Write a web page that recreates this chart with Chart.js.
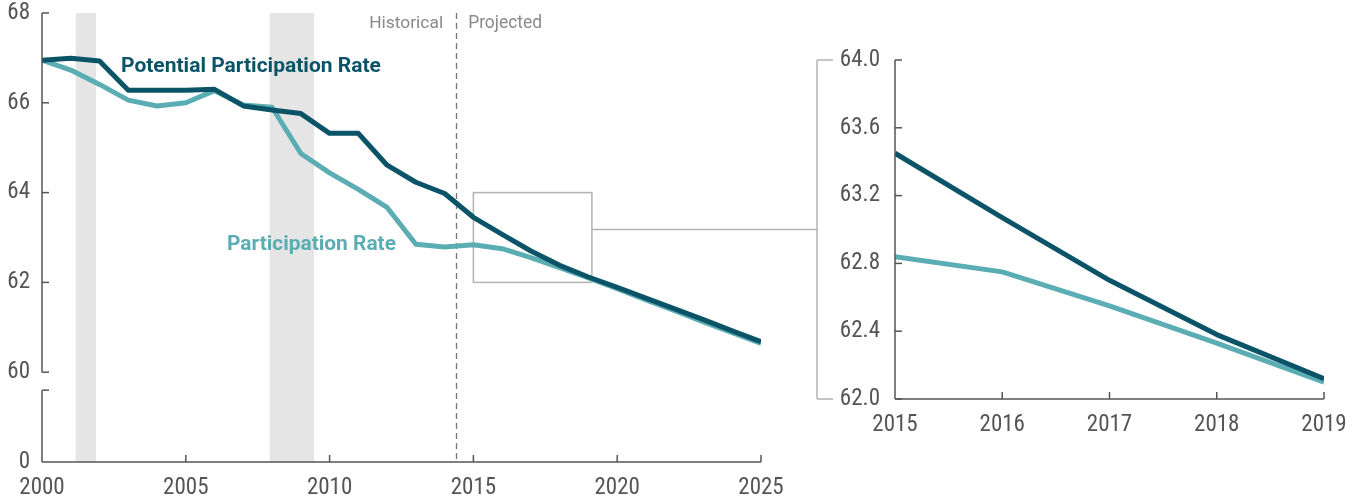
<!DOCTYPE html>
<html>
<head>
<meta charset="utf-8">
<script src="https://cdn.jsdelivr.net/npm/chart.js@4/dist/chart.umd.min.js"></script>
<style>
  html, body { margin: 0; padding: 0; background: #ffffff; }
  #wrap { position: relative; width: 1361px; height: 501px; }
  canvas { position: absolute; left: 0; top: 0; }
</style>
</head>
<body>
<div id="wrap">
  <canvas id="main" width="1361" height="501"></canvas>
  <canvas id="zoom" width="1361" height="501"></canvas>
</div>
<script>
// ---- data ----
const years = [2000, 2001, 2002, 2003, 2004, 2005, 2006, 2007, 2008, 2009, 2010, 2011, 2012,
               2013, 2014, 2015, 2016, 2017, 2018, 2019, 2020, 2021, 2022, 2023, 2024, 2025];
const potentialRate = [66.95, 66.99, 66.93, 66.28, 66.28, 66.28, 66.30, 65.93, 65.84, 65.76, 65.32, 65.32, 64.61,
                       64.23, 63.98, 63.45, 63.07, 62.70, 62.38, 62.12, 61.89, 61.65, 61.41, 61.17, 60.92, 60.68];
const participationRate = [66.95, 66.73, 66.41, 66.06, 65.93, 66.00, 66.27, 65.95, 65.90, 64.87, 64.44, 64.07, 63.67,
                           62.85, 62.79, 62.84, 62.75, 62.55, 62.33, 62.10, 61.86, 61.61, 61.37, 61.12, 60.88, 60.64];
const recessions = [[2001.17, 2001.88], [2007.92, 2009.46]];
const projectionStart = 2014.4;
const zoomYears = [2015, 2016, 2017, 2018, 2019];
const zoomBox = { x0: 2015, x1: 2019.12, y0: 62, y1: 64 };
const seriesNames = ['Potential Participation Rate', 'Participation Rate'];
const periodLabels = ['Historical', 'Projected'];

// ---- styles ----
const FONT = "Roboto, 'Liberation Sans', sans-serif";
const DARK = '#0b5468';
const LIGHT = '#5badb4';
const AXIS = '#555555';
const TEXT = '#555555';
const TICK_FONT = { size: 23, weight: 'condensed' };
Chart.defaults.font.family = FONT;
Chart.defaults.color = TEXT;

function pts(xs, ys) { return xs.map((x, i) => ({ x: x, y: ys[i] })); }
const zoomPotential = zoomYears.map(y => ({ x: y, y: potentialRate[years.indexOf(y)] }));
const zoomParticipation = zoomYears.map(y => ({ x: y, y: participationRate[years.indexOf(y)] }));

function line(ctx, x0, y0, x1, y1) { ctx.beginPath(); ctx.moveTo(x0, y0); ctx.lineTo(x1, y1); ctx.stroke(); }
function fitText(ctx, text, weight, targetW, x, y) {
  ctx.font = weight + " 20px " + FONT;
  const w = ctx.measureText(text).width;
  const size = 20 * targetW / w;
  ctx.font = weight + " " + size.toFixed(2) + "px " + FONT;
  ctx.fillText(text, x, y);
}
function fixY(width) { return s => { s.width = width; s.paddingTop = 0; s.paddingBottom = 0; }; }

const mainDecor = {
  id: 'mainDecor',
  beforeDatasetsDraw(chart) {
    const { ctx, chartArea: a, scales: { x, y } } = chart;
    ctx.save();
    ctx.fillStyle = '#e5e5e5';
    recessions.forEach(([s, e]) => {
      const px0 = x.getPixelForValue(s), px1 = x.getPixelForValue(e);
      ctx.fillRect(px0, a.top, px1 - px0, a.bottom - a.top);
    });
    ctx.strokeStyle = '#777777';
    ctx.lineWidth = 1.3;
    ctx.setLineDash([6, 4]);
    const dx = Math.round(x.getPixelForValue(projectionStart)) + 0.5;
    line(ctx, dx, a.top, dx, a.bottom);
    ctx.setLineDash([]);
    ctx.strokeStyle = '#b3b3b3';
    ctx.lineWidth = 1.5;
    const bx0 = x.getPixelForValue(zoomBox.x0), bx1 = x.getPixelForValue(zoomBox.x1);
    const by0 = y.getPixelForValue(zoomBox.y1), by1 = y.getPixelForValue(zoomBox.y0);
    ctx.strokeRect(bx0, by0, bx1 - bx0, by1 - by0);
    ctx.restore();
  },
  afterDraw(chart) {
    const { ctx, chartArea: a, scales: { x, y } } = chart;
    ctx.save();
    ctx.strokeStyle = AXIS;
    ctx.lineWidth = 1.5;
    const ax = a.left;
    line(ctx, ax, y.getPixelForValue(68), ax, y.getPixelForValue(60));
    [60, 62, 64, 66, 68].forEach(v => { const py = y.getPixelForValue(v); line(ctx, ax, py, ax + 7, py); });
    const pb = y.getPixelForValue(59.6);
    line(ctx, ax, pb, ax, a.bottom);
    line(ctx, ax, pb, ax + 7, pb);
    line(ctx, a.left, a.bottom, a.right, a.bottom);
    [2005, 2010, 2015, 2020, 2025].forEach(v => { const px = x.getPixelForValue(v); line(ctx, px, a.bottom, px, a.bottom - 7); });
    ctx.fillStyle = '#8a8a8a';
    ctx.textBaseline = 'alphabetic';
    const dx = x.getPixelForValue(projectionStart);
    ctx.textAlign = 'right';
    fitText(ctx, periodLabels[0], 'normal', 74, dx - 13, 28);
    ctx.textAlign = 'left';
    fitText(ctx, periodLabels[1], 'normal', 74, dx + 12, 28);
    ctx.fillStyle = DARK;
    fitText(ctx, seriesNames[0], 'bold', 260, 121, 72);
    ctx.fillStyle = LIGHT;
    fitText(ctx, seriesNames[1], 'bold', 169, 227, 250);
    ctx.restore();
  }
};

const mainChart = new Chart(document.getElementById('main'), {
  type: 'line',
  data: {
    datasets: [
      { label: seriesNames[0], data: pts(years, potentialRate), borderColor: DARK, borderWidth: 5, order: 0 },
      { label: seriesNames[1], data: pts(years, participationRate), borderColor: LIGHT, borderWidth: 5, order: 1 }
    ]
  },
  options: {
    responsive: false,
    animation: false,
    layout: { padding: { left: 0, top: 13, right: 600, bottom: 0 } },
    elements: { point: { radius: 0 }, line: { tension: 0, borderJoinStyle: 'round', borderCapStyle: 'butt' } },
    plugins: { legend: { display: false }, tooltip: { enabled: false } },
    scales: {
      x: {
        type: 'linear', min: 2000, max: 2025,
        grid: { display: false, drawTicks: false }, border: { display: false },
        ticks: { stepSize: 5, padding: 12, maxRotation: 0, font: TICK_FONT, color: TEXT, callback: v => String(v) },
        afterFit: s => { s.height = 39; }
      },
      y: {
        min: 58, max: 68,
        grid: { display: false, drawTicks: false }, border: { display: false },
        ticks: { stepSize: 2, padding: 12, font: TICK_FONT, color: TEXT, callback: v => (v === 58 ? '0' : String(v)) },
        afterFit: fixY(42)
      }
    }
  },
  plugins: [mainDecor]
});

const zoomDecor = {
  id: 'zoomDecor',
  afterDraw(chart) {
    const { ctx, chartArea: a, scales: { x, y } } = chart;
    ctx.save();
    ctx.strokeStyle = AXIS;
    ctx.lineWidth = 1.5;
    line(ctx, a.left, a.top, a.left, a.bottom);
    [62, 62.4, 62.8, 63.2, 63.6, 64].forEach(v => { const py = y.getPixelForValue(v); line(ctx, a.left, py, a.left + 7, py); });
    line(ctx, a.left, a.bottom, a.right, a.bottom);
    zoomYears.slice(1).forEach(v => { const px = x.getPixelForValue(v); line(ctx, px, a.bottom, px, a.bottom - 7); });
    ctx.strokeStyle = '#b3b3b3';
    const bx = a.left - 78;
    const mid = (a.top + a.bottom) / 2;
    line(ctx, bx, a.top, bx, a.bottom);
    line(ctx, bx, a.top, bx + 16, a.top);
    line(ctx, bx, a.bottom, bx + 16, a.bottom);
    const mx = mainChart.scales.x.getPixelForValue(zoomBox.x1);
    line(ctx, mx, mid, bx, mid);
    ctx.restore();
  }
};

new Chart(document.getElementById('zoom'), {
  type: 'line',
  data: {
    datasets: [
      { label: seriesNames[0], data: zoomPotential, borderColor: DARK, borderWidth: 5, order: 0 },
      { label: seriesNames[1], data: zoomParticipation, borderColor: LIGHT, borderWidth: 5, order: 1 }
    ]
  },
  options: {
    responsive: false,
    animation: false,
    layout: { padding: { left: 795, top: 60, right: 37, bottom: 62 } },
    elements: { point: { radius: 0 }, line: { tension: 0, borderJoinStyle: 'round', borderCapStyle: 'butt' } },
    plugins: { legend: { display: false }, tooltip: { enabled: false } },
    scales: {
      x: {
        type: 'linear', min: 2015, max: 2019,
        grid: { display: false, drawTicks: false }, border: { display: false },
        ticks: { stepSize: 1, padding: 12, maxRotation: 0, font: TICK_FONT, color: TEXT, callback: v => String(v) },
        afterFit: s => { s.height = 40; }
      },
      y: {
        min: 62, max: 64,
        grid: { display: false, drawTicks: false }, border: { display: false },
        ticks: { stepSize: 0.4, padding: 15, font: TICK_FONT, color: TEXT, callback: v => Number(v).toFixed(1) },
        afterFit: fixY(100)
      }
    }
  },
  plugins: [zoomDecor]
});
</script>
</body>
</html>
